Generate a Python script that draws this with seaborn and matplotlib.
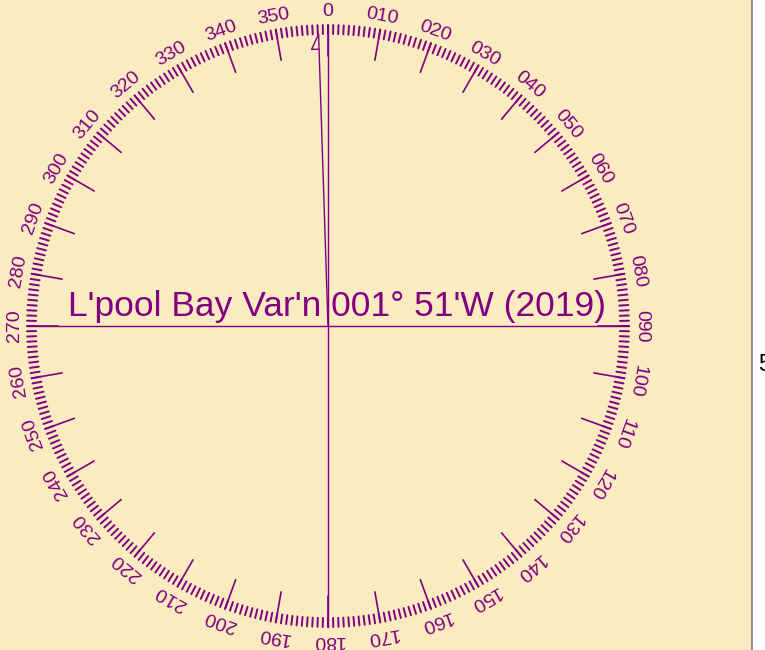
import numpy as np
import pandas as pd
import matplotlib
matplotlib.use("Agg")
import matplotlib.pyplot as plt
import seaborn as sns

# -----------------------------------------------------------------------------
# Data
# -----------------------------------------------------------------------------
minor_bearings = list(range(0, 360))          # one tick per degree
major_bearings = list(range(0, 360, 10))      # long ticks + labels
major_labels = ["0", "010", "020", "030", "040", "050", "060", "070", "080",
                "090", "100", "110", "120", "130", "140", "150", "160", "170",
                "180", "190", "200", "210", "220", "230", "240", "250", "260",
                "270", "280", "290", "300", "310", "320", "330", "340", "350"]
cross_bearings = [0, 90, 180, 270]

var_degrees = 1
var_minutes = 51
var_direction = "W"
var_year = 2019
var_label = f"L'pool Bay Var'n {var_degrees:03d}° {var_minutes}'{var_direction} ({var_year})"

# -----------------------------------------------------------------------------
# Style
# -----------------------------------------------------------------------------
sns.set_style("white")
plt.rcParams["font.family"] = ["Liberation Sans", "DejaVu Sans"]

PURPLE = "#800080"
BG = "#FAEBC1"

R_OUT = 301
R_MINOR = 292
R_MAJOR = 270
R_LABEL = 314


def polar(bearing, r):
    a = np.deg2rad(bearing)
    return r * np.sin(a), r * np.cos(a)


def segments(bearings, r0, r1, prefix):
    rows = []
    for b in bearings:
        x0, y0 = polar(b, r0)
        x1, y1 = polar(b, r1)
        rows.append({"seg": f"{prefix}{b}", "x": x0, "y": y0})
        rows.append({"seg": f"{prefix}{b}", "x": x1, "y": y1})
    return pd.DataFrame(rows)


fig = plt.figure(figsize=(7.65, 6.5), dpi=100)
fig.patch.set_facecolor("white")
ax = fig.add_axes([0, 0, 752 / 765, 1])
ax.set_facecolor(BG)

minor_df = segments(minor_bearings, R_MINOR, R_OUT, "m")
major_df = segments(major_bearings, R_MAJOR, R_OUT, "M")
cross_df = segments(cross_bearings, 0, R_OUT, "c")

for df, lw in [(minor_df, 1.4), (major_df, 1.2), (cross_df, 1.0)]:
    sns.lineplot(data=df, x="x", y="y", units="seg", estimator=None, sort=False,
                 color=PURPLE, linewidth=lw, ax=ax, legend=False)

# variation line with half arrow head
var_angle = -(var_degrees + var_minutes / 60)
tip = polar(var_angle, R_MINOR)
base = polar(var_angle, R_MINOR - 15)
perp = np.deg2rad(var_angle - 90)
barb = (base[0] + 7.5 * np.sin(perp), base[1] + 7.5 * np.cos(perp))
ax.plot([0, tip[0]], [0, tip[1]], color=PURPLE, linewidth=1.0)
ax.plot([tip[0], barb[0], base[0]], [tip[1], barb[1], base[1]],
        color=PURPLE, linewidth=1.0)

for b, lab in zip(major_bearings, major_labels):
    x, y = polar(b, R_LABEL)
    ax.text(x, y, lab, rotation=-b, rotation_mode="anchor", ha="center",
            va="center", fontsize=14, color=PURPLE)

ax.text(9.5, 10, var_label, ha="center", va="baseline", fontsize=25.5, color=PURPLE)

ax.set_xlim(-328, 424)
ax.set_ylim(-324, 326)
ax.set_aspect("equal")
ax.set_xticks([])
ax.set_yticks([])
ax.set_xlabel("")
ax.set_ylabel("")
for side in ["top", "left", "bottom"]:
    ax.spines[side].set_visible(False)
ax.spines["right"].set_color("#808080")
ax.spines["right"].set_linewidth(1.2)

fig.text(758 / 765, 1 - 365 / 650, "5", ha="left", va="center", fontsize=17,
         color="black")

fig.savefig("out.png", dpi=100)
